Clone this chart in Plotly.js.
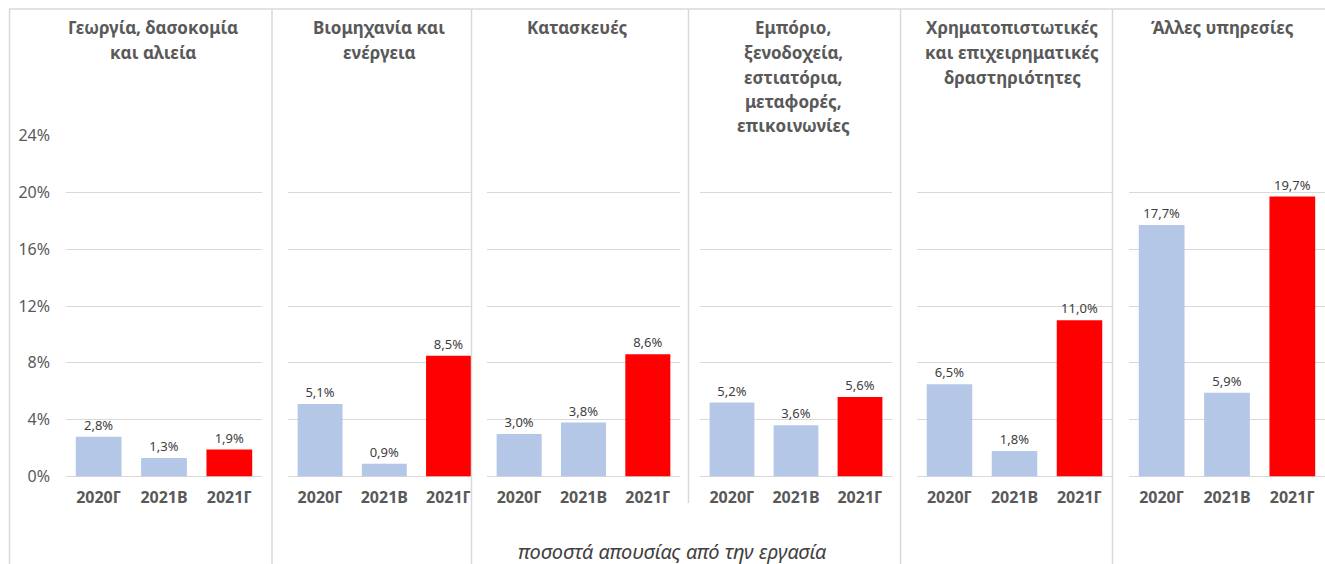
<!DOCTYPE html>
<html>
<head>
<meta charset="utf-8">
<script src="https://cdn.plot.ly/plotly-3.0.1.min.js"></script>
<style>html,body{margin:0;padding:0;background:#fff;}#chart{width:1325px;height:564px;}</style>
</head>
<body>
<div id="chart"></div>
<script>
// ---- data ----
const categories = ['2020Γ', '2021Β', '2021Γ'];
const panelTitles = [
  ['Γεωργία, δασοκομία', 'και αλιεία'],
  ['Βιομηχανία και', 'ενέργεια'],
  ['Κατασκευές'],
  ['Εμπόριο,', 'ξενοδοχεία,', 'εστιατόρια,', 'μεταφορές,', 'επικοινωνίες'],
  ['Χρηματοπιστωτικές', 'και επιχειρηματικές', 'δραστηριότητες'],
  ['Άλλες υπηρεσίες']
];
const agriculture   = [0.028, 0.013, 0.019];
const industry      = [0.051, 0.009, 0.085];
const construction  = [0.030, 0.038, 0.086];
const trade         = [0.052, 0.036, 0.056];
const finance       = [0.065, 0.018, 0.110];
const otherServices = [0.177, 0.059, 0.197];
const seriesValues = [agriculture, industry, construction, trade, finance, otherServices];
const axisTitle = 'ποσοστά απουσίας από την εργασία';
const yTicks = [0, 0.04, 0.08, 0.12, 0.16, 0.20, 0.24];

// ---- layout helpers ----
const W = 1325, H = 564;
const px = v => v / W;
const py = v => 1 - v / H;
const FONT = 'Noto Sans';
const BLUE = '#B4C7E7', RED = '#FF0000', GRID = '#D9D9D9';
const panelX = [[66, 262], [288, 471], [487, 680], [700, 892], [917, 1112], [1129, 1325]];
const panelRange = [[-0.5, 2.5], [-0.5, 2.35], [-0.5, 2.5], [-0.5, 2.5], [-0.5, 2.5], [-0.5, 2.5]];
const titleCx = [153, 379, 577, 793, 1012, 1222];
const yDomain = [py(476.5), py(135.5)];

const traces = [];
const layout = {
  width: W, height: H,
  margin: {l: 0, r: 0, t: 0, b: 0, pad: 0},
  paper_bgcolor: '#fff', plot_bgcolor: 'rgba(0,0,0,0)',
  showlegend: false,
  separators: ',.',
  font: {family: FONT, color: '#595959'},
  annotations: [],
  shapes: []
};

seriesValues.forEach((vals, i) => {
  const sfx = i === 0 ? '' : String(i + 1);
  traces.push({
    type: 'bar',
    x: categories,
    y: vals,
    xaxis: 'x' + sfx,
    yaxis: 'y' + sfx,
    width: 0.7,
    marker: {color: categories.map((c, k) => k === categories.length - 1 ? RED : BLUE), line: {width: 0}},
    texttemplate: '%{y:.1%}',
    textposition: 'outside',
    constraintext: 'none',
    textfont: {family: FONT, size: 13, color: '#404040'},
    hoverinfo: 'skip'
  });
  layout['xaxis' + sfx] = {
    domain: [px(panelX[i][0]), px(panelX[i][1])],
    range: panelRange[i],
    type: 'category',
    anchor: 'y' + sfx,
    showgrid: false, zeroline: false, showline: false, ticks: '',
    tickfont: {family: FONT, size: 16, color: '#595959', weight: 'bold'},
    ticklabelstandoff: 9,
    fixedrange: true
  };
  layout['yaxis' + sfx] = {
    domain: yDomain,
    range: [0, 0.24],
    tickvals: yTicks,
    tickformat: '.0%',
    anchor: 'x' + sfx,
    showgrid: true, gridcolor: GRID, gridwidth: 1,
    zeroline: true, zerolinecolor: GRID, zerolinewidth: 1,
    showline: false, ticks: '',
    showticklabels: i === 0,
    tickfont: {family: FONT, size: 16, color: '#595959'},
    ticklabelstandoff: 15,
    fixedrange: true
  };
  panelTitles[i].forEach((line, j) => {
    layout.annotations.push({
      xref: 'paper', yref: 'paper',
      x: px(titleCx[i]), y: py(28 + j * 24.5),
      xanchor: 'center', yanchor: 'middle',
      text: '<b>' + line + '</b>', showarrow: false,
      font: {family: FONT, size: 17, color: '#595959'}
    });
  });
});

layout.annotations.push({
  xref: 'paper', yref: 'paper', x: px(672), y: py(551),
  xanchor: 'center', yanchor: 'middle', showarrow: false,
  text: '<i>' + axisTitle + '</i>',
  font: {family: FONT, size: 20, color: '#404040'}
});

// frame and panel separators
const vline = (x, y0, y1) => ({type: 'line', xref: 'paper', yref: 'paper', x0: px(x), x1: px(x), y0: py(y0), y1: py(y1), line: {color: GRID, width: 1.5}, layer: 'above'});
layout.shapes.push({type: 'line', xref: 'paper', yref: 'paper', x0: px(9), x1: 1, y0: py(9), y1: py(9), line: {color: GRID, width: 1.5}});
layout.shapes.push(vline(9.5, 9, 564));
layout.shapes.push(vline(272, 9, 564));
layout.shapes.push(vline(471.5, 9, 564));
layout.shapes.push(vline(688.5, 9, 503));
layout.shapes.push(vline(900.5, 9, 564));
layout.shapes.push(vline(1112.5, 9, 564));

Plotly.newPlot('chart', traces, layout, {staticPlot: true, displayModeBar: false});
</script>
</body>
</html>
